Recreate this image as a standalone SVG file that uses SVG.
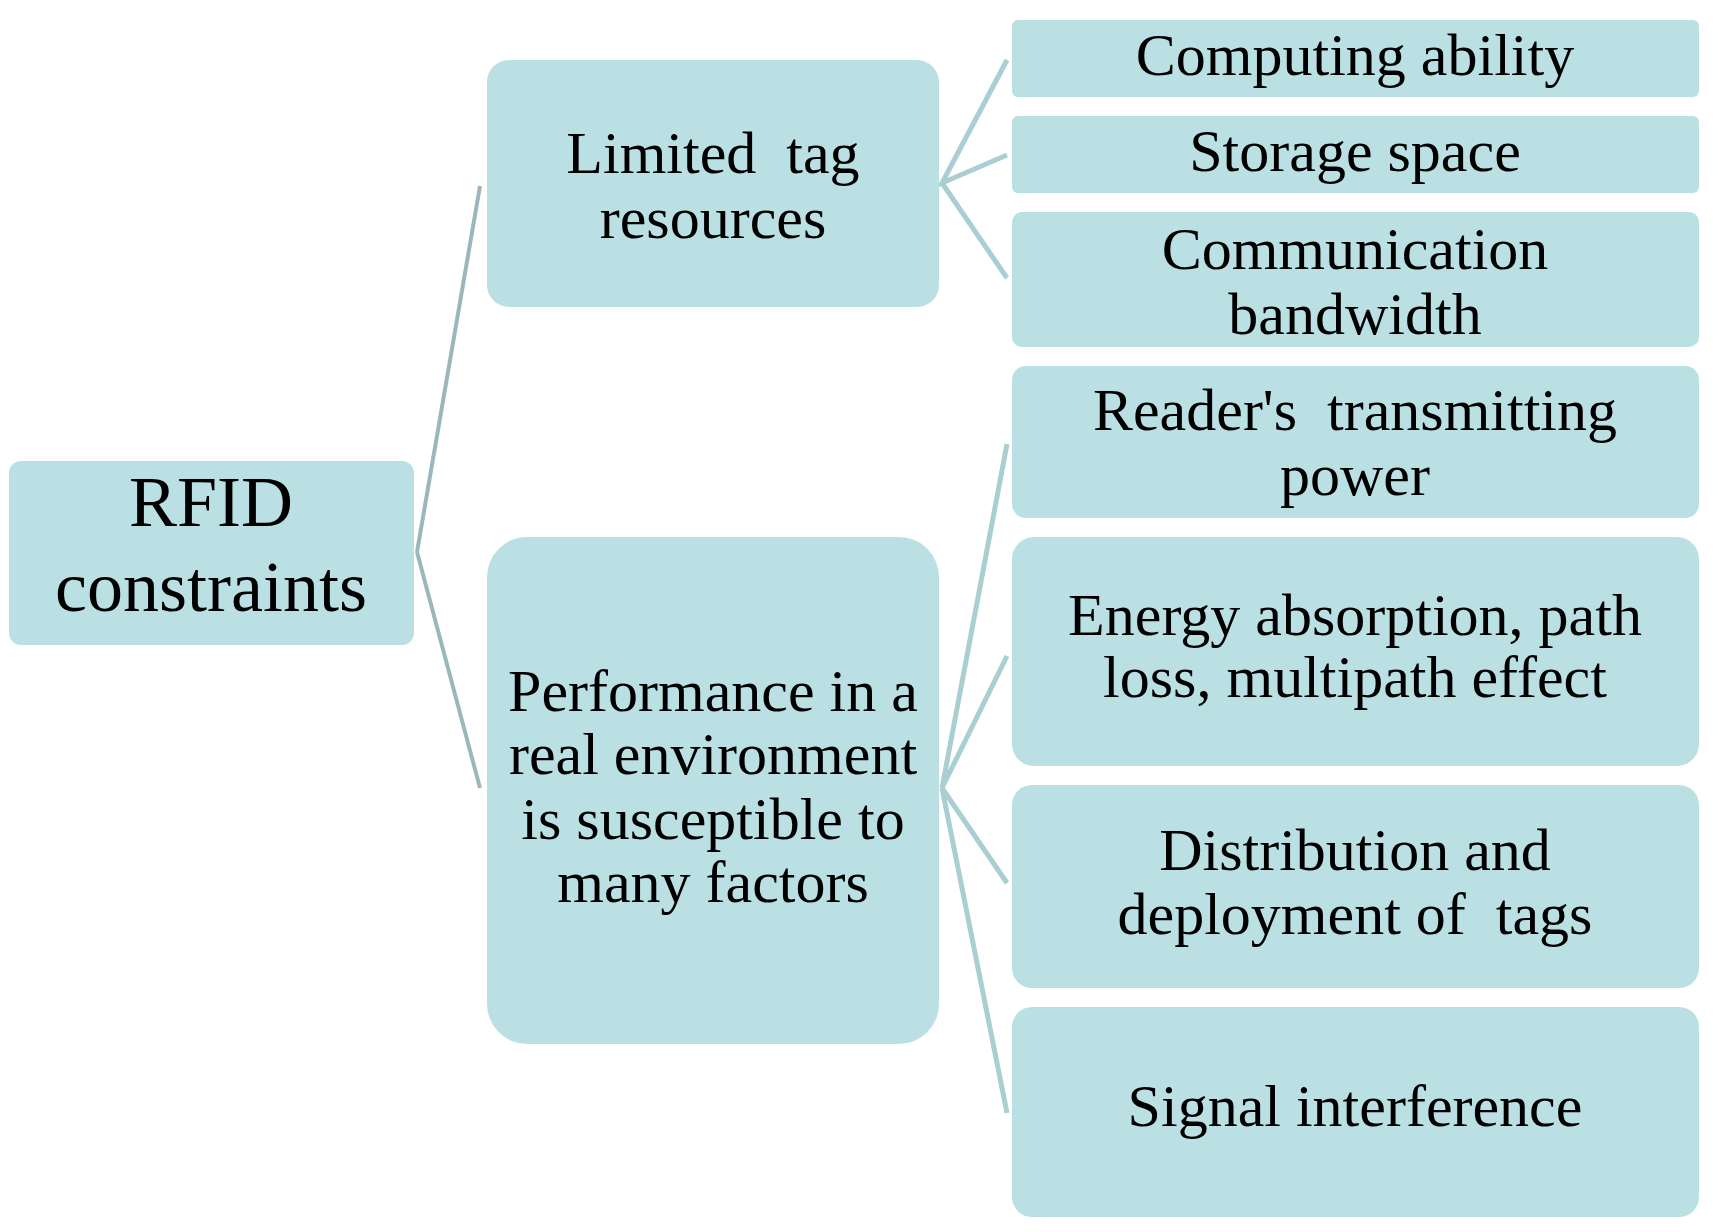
<svg xmlns="http://www.w3.org/2000/svg" width="1720" height="1232" viewBox="0 0 1720 1232">
<style>
.box{fill:#bbe0e3}
.t{font-family:"Liberation Serif","Times New Roman",serif;font-size:60px;fill:#000;text-anchor:middle;white-space:pre}
.big{font-size:72px}
.c1{stroke:#9ab8bc;stroke-width:4;fill:none}
.c2{stroke:#a9cfd3;stroke-width:5;fill:none}
</style>
<rect width="1720" height="1232" fill="#fff"/>
<g id="connectors">
<path class="c1" d="M417,552 L480,186 M417,552 L480,788"/>
<path class="c2" d="M1007,60 L942,183 L1007,155 M942,183 L1007,278"/>
<path class="c2" d="M1007,444 L942,788 L1007,656 M942,788 L1007,883 M942,788 L1007,1113"/>
</g>
<g id="root">
<rect class="box" x="9" y="461" width="405" height="184" rx="12"/>
<text class="t big" x="211" y="526">RFID</text>
<text class="t big" x="211" y="611">constraints</text>
</g>
<g id="limited">
<rect class="box" x="487" y="60" width="452" height="247" rx="22"/>
<text class="t" x="713" y="173" xml:space="preserve">Limited  tag</text>
<text class="t" x="713" y="238">resources</text>
</g>
<g id="performance">
<rect class="box" x="487" y="537" width="452" height="507" rx="40"/>
<text class="t" x="713" y="711">Performance in a</text>
<text class="t" x="713" y="774">real environment</text>
<text class="t" x="713" y="839">is susceptible to</text>
<text class="t" x="713" y="902">many factors</text>
</g>
<g id="computing">
<rect class="box" x="1012" y="20" width="687" height="77" rx="6"/>
<text class="t" x="1355" y="75">Computing ability</text>
</g>
<g id="storage">
<rect class="box" x="1012" y="116" width="687" height="77" rx="6"/>
<text class="t" x="1355" y="171">Storage space</text>
</g>
<g id="communication">
<rect class="box" x="1012" y="212" width="687" height="135" rx="10"/>
<text class="t" x="1355" y="269">Communication</text>
<text class="t" x="1355" y="334">bandwidth</text>
</g>
<g id="reader">
<rect class="box" x="1012" y="366" width="687" height="152" rx="14"/>
<text class="t" x="1355" y="430" xml:space="preserve">Reader's  transmitting</text>
<text class="t" x="1355" y="495">power</text>
</g>
<g id="energy">
<rect class="box" x="1012" y="537" width="687" height="229" rx="22"/>
<text class="t" x="1355" y="635">Energy absorption, path</text>
<text class="t" x="1355" y="697">loss, multipath effect</text>
</g>
<g id="distribution">
<rect class="box" x="1012" y="785" width="687" height="203" rx="20"/>
<text class="t" x="1355" y="870">Distribution and</text>
<text class="t" x="1355" y="934" xml:space="preserve">deployment of  tags</text>
</g>
<g id="signal">
<rect class="box" x="1012" y="1007" width="687" height="210" rx="20"/>
<text class="t" x="1355" y="1126">Signal interference</text>
</g>
</svg>
